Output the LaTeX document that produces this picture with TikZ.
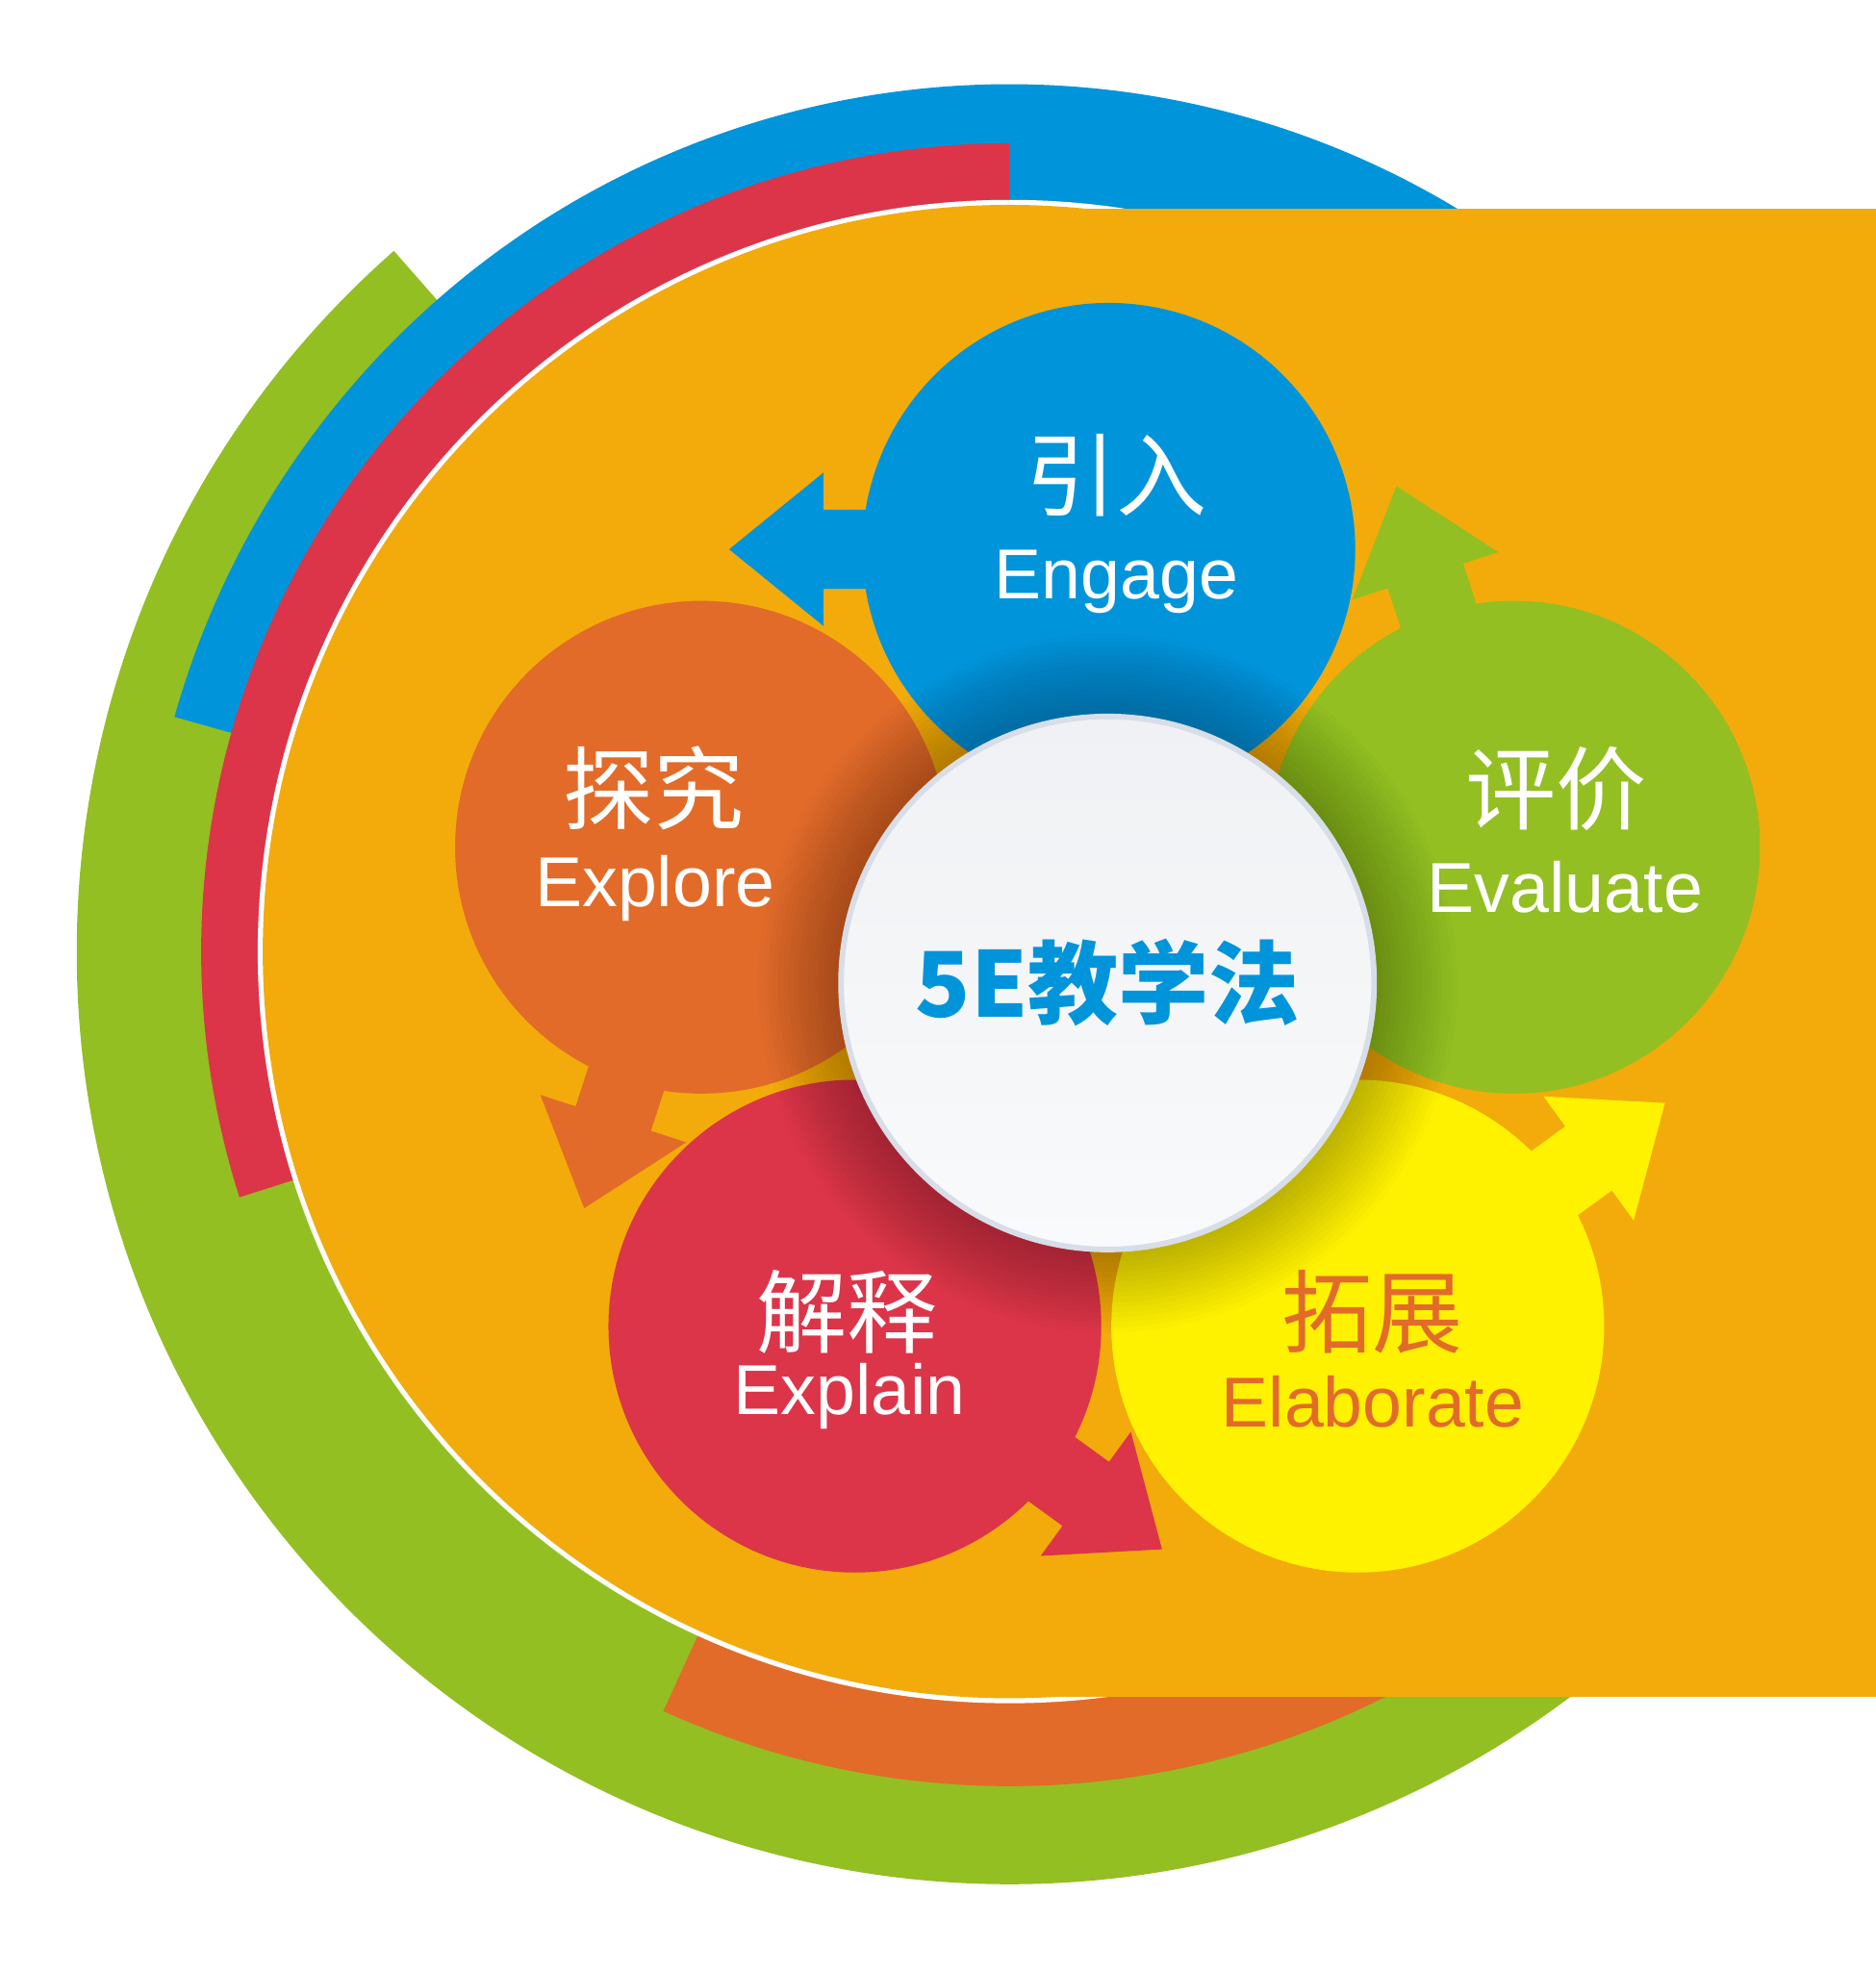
\documentclass[tikz,border=0pt]{standalone}
\usepackage{fontspec}
\setmainfont{Liberation Sans}
\newfontfamily\cjk{Noto Sans CJK SC}
\usetikzlibrary{calc}
\definecolor{c5blue}{RGB}{0, 148, 219}
\definecolor{c5red}{RGB}{220, 52, 73}
\definecolor{c5orange}{RGB}{227, 107, 42}
\definecolor{c5green}{RGB}{147, 191, 34}
\definecolor{c5yellow}{RGB}{255, 242, 0}
\definecolor{c5amber}{RGB}{242, 171, 11}
\definecolor{hubtop}{RGB}{239, 241, 244}
\definecolor{hubbottom}{RGB}{249, 250, 251}
\definecolor{hubrim}{RGB}{216, 222, 231}

\begin{document}
\begin{tikzpicture}[
        x=0.1mm, y=0.1mm,
        phase/.style={circle, minimum size=39.2mm, inner sep=0pt},
        hub/.style={circle, minimum size=42.4mm, inner sep=0pt, draw=hubrim, line width=0.45mm,
                    top color=hubtop, bottom color=hubbottom, text=c5blue,
                    font=\cjk\bfseries\fontsize{20.5}{24}\selectfont},
        cn/.style={anchor=base, inner sep=0pt, text=white, font=\cjk\fontsize{20.5}{24}\selectfont},
        en/.style={anchor=base, inner sep=0pt, text=white, font=\fontsize{16}{19}\selectfont},
    ]
    \useasboundingbox (0,0) rectangle (1492,1568);
    \coordinate (ring) at (803,811);
    \coordinate (mid)  at (881,786);

    % bands round the edge
    \foreach \col/\a/\b/\r in {c5green/131.3/320/742, c5blue/50/164.3/690, c5red/90/197.7/643, c5orange/245.5/310/664} {
        \fill[\col] ($(ring)+(\a:\r)$) arc[start angle=\a, end angle=\b, radius=\r]
            -- ($(ring)+(\b:560)$) arc[start angle=\b, end angle=\a, radius=560] -- cycle;
    }
    \fill[white]   (ring) circle[radius=598];
    \fill[c5amber] (ring) circle[radius=594];
    \fill[c5amber] (803,218) rectangle (1492,1402);

    % the five phases
    \node[phase, fill=c5blue]   (engage)    at (882,1131) {};
    \node[phase, fill=c5orange] (explore)   at (558,894)  {};
    \node[phase, fill=c5red]    (explain)   at (680,513)  {};
    \node[phase, fill=c5yellow] (elaborate) at (1080,513) {};
    \node[phase, fill=c5green]  (evaluate)  at (1204,894) {};

    \foreach \c/\dir/\col in {engage/180/c5blue, explore/252/c5orange, explain/324/c5red,
                              elaborate/36/c5yellow, evaluate/108/c5green} {
        \fill[\col, shift={(\c.center)}, rotate=\dir]
            (0,31.5) -- (227,31.5) -- (227,61) -- (302,0) -- (227,-61) -- (227,-31.5) -- (0,-31.5) -- cycle;
    }

    % soft shadow under the hub
    \foreach \r in {278,274,...,218} {
        \fill[black, opacity=0.014] (mid) circle[radius=\r];
    }
    \node[hub] (hub) at (mid) {5E教学法};

    \node[cn] (engage-cn)    at (888,1163) {引入};
    \node[en] (engage-en)    at (888,1092) {Engage};
    \node[cn] (explore-cn)   at (520,913)  {探究};
    \node[en] (explore-en)   at (521,847)  {Explore};
    \node[cn] (explain-cn)   at (674,497)  {解释};
    \node[en] (explain-en)   at (676,443)  {Explain};
    \node[cn, text=c5orange] (elaborate-cn) at (1092,497) {拓展};
    \node[en, text=c5orange] (elaborate-en) at (1092,433) {Elaborate};
    \node[cn] (evaluate-cn)  at (1238,913) {评价};
    \node[en] (evaluate-en)  at (1245,842) {Evaluate};
\end{tikzpicture}
\end{document}
